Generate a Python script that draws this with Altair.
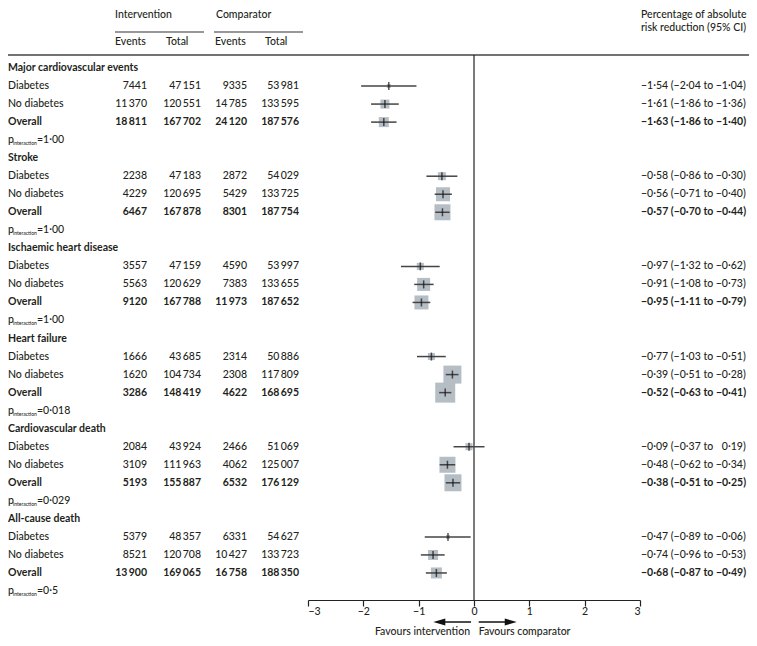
import altair as alt
import pandas as pd

# ---------------- data ----------------
outcomes = ["Major cardiovascular events", "Stroke", "Ischaemic heart disease",
            "Heart failure", "Cardiovascular death", "All-cause death"]
subgroups = ["Diabetes", "No diabetes", "Overall"]

int_events = [[7441, 11370, 18811], [2238, 4229, 6467], [3557, 5563, 9120],
              [1666, 1620, 3286], [2084, 3109, 5193], [5379, 8521, 13900]]
int_total = [[47151, 120551, 167702], [47183, 120695, 167878], [47159, 120629, 167788],
             [43685, 104734, 148419], [43924, 111963, 155887], [48357, 120708, 169065]]
comp_events = [[9335, 14785, 24120], [2872, 5429, 8301], [4590, 7383, 11973],
               [2314, 2308, 4622], [2466, 4062, 6532], [6331, 10427, 16758]]
comp_total = [[53981, 133595, 187576], [54029, 133725, 187754], [53997, 133655, 187652],
              [50886, 117809, 168695], [51069, 125007, 176129], [54627, 133723, 188350]]

arr_est = [[-1.54, -1.61, -1.63], [-0.58, -0.56, -0.57], [-0.97, -0.91, -0.95],
           [-0.77, -0.39, -0.52], [-0.09, -0.48, -0.38], [-0.47, -0.74, -0.68]]
arr_lo = [[-2.04, -1.86, -1.86], [-0.86, -0.71, -0.70], [-1.32, -1.08, -1.11],
          [-1.03, -0.51, -0.63], [-0.37, -0.62, -0.51], [-0.89, -0.96, -0.87]]
arr_hi = [[-1.04, -1.36, -1.40], [-0.30, -0.40, -0.44], [-0.62, -0.73, -0.79],
          [-0.51, -0.28, -0.41], [0.19, -0.34, -0.25], [-0.06, -0.53, -0.49]]

# relative weight of each estimate (side of the grey square)
box_weight = [[4, 9, 10], [8, 14, 16], [7, 13, 14], [7, 18, 20], [7, 16, 17], [4, 10, 11]]

p_values = ["1·00", "1·00", "1·00", "0·018", "0·029", "0·5"]
axis_ticks = [-3, -2, -1, 0, 1, 2, 3]

arrow_start = [-0.054, 0.085]
arrow_end = [-0.65, 0.70]
arrow_head = [-0.627, 0.664]
favours_text = ["Favours intervention", "Favours comparator"]
favours_pos = [-0.072, 0.085]

# ---------------- style ----------------
FONT = "Lato"
FS = 10.5
TXT = "#231f20"
BOX = "#b5bdc5"
NORMAL_W = 500
W, H = 741, 630
AXIS_Y = 592
ARROW_Y = 614
FAV_Y = 624


def num(n):
    s = str(n)
    if n >= 10000:
        s = s[:-3] + "\u2009" + s[-3:]
    return s


def dec(v):
    s = f"{abs(v):.2f}".replace(".", "·")
    return ("−" if v < 0 else "") + s


def ci(e, l, h):
    hs = dec(h) if h < 0 else "\u2007" + dec(h)
    return f"{dec(e)} ({dec(l)} to {hs})"


titles, rows, prows = [], [], []
for k, name in enumerate(outcomes):
    base = 5 * k
    titles.append({"row": base, "text": name})
    for j, sg in enumerate(subgroups):
        rows.append({
            "row": base + 1 + j, "label": sg,
            "ie": num(int_events[k][j]), "it": num(int_total[k][j]),
            "ce": num(comp_events[k][j]), "ct": num(comp_total[k][j]),
            "ci": ci(arr_est[k][j], arr_lo[k][j], arr_hi[k][j]),
            "est": arr_est[k][j], "lo": arr_lo[k][j], "hi": arr_hi[k][j],
            "w": box_weight[k][j], "bold": sg == "Overall",
        })
    prows.append({"row": base + 4, "p": "p", "sub": "interaction", "val": "=" + p_values[k]})

titles = pd.DataFrame(titles)
forest = pd.DataFrame(rows)
prows = pd.DataFrame(prows)
normal = forest[~forest["bold"]]
bold = forest[forest["bold"]]

yenc = alt.Y("row:Q", scale=alt.Scale(domain=[0, 29], range=[60, 583], nice=False, zero=False), axis=None)
xsc = alt.Scale(domain=[-3, 3], range=[300, 632], nice=False, zero=False)
xaxis = alt.Axis(values=axis_ticks, format="d", title=None, grid=False, offset=AXIS_Y - H,
                 tickSize=6, tickColor="#222", tickWidth=1.2, domainColor="#222", domainWidth=1.2,
                 labelFont=FONT, labelFontSize=FS, labelFontWeight=NORMAL_W, labelColor=TXT,
                 labelPadding=0)

one = pd.DataFrame({"a": [0]})


def tlayer(df, field, x, align, weight=NORMAL_W, size=FS, dy=0):
    return alt.Chart(df).mark_text(align=align, baseline="middle", font=FONT, fontSize=size,
                                   fontWeight=weight, color=TXT, dy=dy).encode(
        x=alt.value(x), y=yenc, text=f"{field}:N")


def htext(t, x, y, align="left", weight=NORMAL_W):
    return alt.Chart(one).mark_text(align=align, baseline="middle", font=FONT, fontSize=FS,
                                    fontWeight=weight, color=TXT, text=t).encode(
        x=alt.value(x), y=alt.value(y))


def hrule(x1, x2, y, width=1.2, color="#333"):
    return alt.Chart(one).mark_rule(color=color, strokeWidth=width).encode(
        x=alt.value(x1), x2=alt.value(x2), y=alt.value(y))


layers = []
# header
layers += [
    htext("Intervention", 107, 7), htext("Comparator", 208, 7),
    htext("Percentage of absolute", 633, 7), htext("risk reduction (95% CI)", 633, 20),
    htext("Events", 107, 34), htext("Total", 158, 34),
    htext("Events", 207, 34), htext("Total", 257, 34),
    hrule(107, 196, 24, 1.2), hrule(206, 295, 24, 1.2), hrule(0, W, 47, 1.5, "#444"),
]

# table text
layers.append(tlayer(titles, "text", 0, "left", "bold"))
for df, wt in [(normal, NORMAL_W), (bold, "bold")]:
    layers += [
        tlayer(df, "label", 0, "left", wt),
        tlayer(df, "ie", 139, "right", wt),
        tlayer(df, "it", 193, "right", wt),
        tlayer(df, "ce", 239, "right", wt),
        tlayer(df, "ct", 291, "right", wt),
        tlayer(df, "ci", 633, "left", wt),
    ]
layers += [
    tlayer(prows, "p", 0, "left"),
    tlayer(prows, "sub", 5, "left", size=5, dy=3),
    tlayer(prows, "val", 29, "left"),
]

# zero line
zero = alt.Chart(pd.DataFrame({"z": [0]})).mark_rule(color="#222", strokeWidth=1.2).encode(
    x=alt.X("z:Q", scale=xsc, axis=xaxis), y=alt.value(47), y2=alt.value(AXIS_Y))

boxes = alt.Chart(forest).mark_square(color=BOX, opacity=1).encode(
    x=alt.X("est:Q", scale=xsc, axis=xaxis), y=yenc,
    size=alt.Size("w:Q", scale=alt.Scale(type="pow", exponent=2, domain=[0, 20], range=[0, 400]),
                  legend=None))
cis = alt.Chart(forest).mark_rule(color="#444", strokeWidth=1.5).encode(
    x=alt.X("lo:Q", scale=xsc, axis=xaxis), x2="hi:Q", y=yenc)
ticks = alt.Chart(forest).mark_tick(orient="vertical", color="#111", thickness=1.5, size=8).encode(
    x=alt.X("est:Q", scale=xsc, axis=xaxis), y=yenc)

# arrows
arr_df = pd.DataFrame({"s": arrow_start, "e": arrow_end, "h": arrow_head,
                       "shape": ["M-1,0L1,-0.6L1,0.6Z", "M1,0L-1,-0.6L-1,0.6Z"]})
shafts = alt.Chart(arr_df).mark_rule(color="#111", strokeWidth=1.5).encode(
    x=alt.X("s:Q", scale=xsc, axis=xaxis), x2="e:Q", y=alt.value(ARROW_Y))
heads = alt.Chart(arr_df).mark_point(filled=True, color="#111", opacity=1, size=144).encode(
    x=alt.X("h:Q", scale=xsc, axis=xaxis), y=alt.value(ARROW_Y), shape=alt.Shape("shape:N", scale=None))
fav_df = pd.DataFrame({"x": favours_pos, "t": favours_text})
fav_l = alt.Chart(fav_df.iloc[[0]]).mark_text(align="right", baseline="middle", font=FONT, fontSize=FS,
                                               fontWeight=NORMAL_W, color=TXT).encode(
    x=alt.X("x:Q", scale=xsc, axis=xaxis), y=alt.value(FAV_Y), text="t:N")
fav_r = alt.Chart(fav_df.iloc[[1]]).mark_text(align="left", baseline="middle", font=FONT, fontSize=FS,
                                               fontWeight=NORMAL_W, color=TXT).encode(
    x=alt.X("x:Q", scale=xsc, axis=xaxis), y=alt.value(FAV_Y), text="t:N")

layers += [zero, boxes, cis, ticks, shafts, heads, fav_l, fav_r]

chart = alt.layer(*layers).properties(
    width=W, height=H, autosize=alt.AutoSizeParams(type="none"), padding=0
).configure_view(stroke=None)

chart.save("out.html", embed_options={"renderer": "svg", "actions": False})
